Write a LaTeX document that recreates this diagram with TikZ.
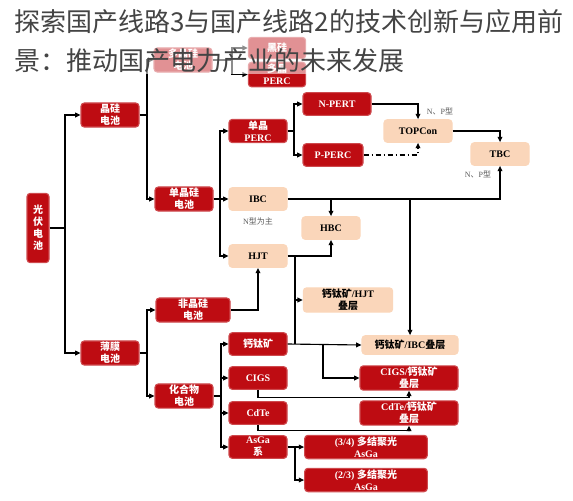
\documentclass[tikz,border=0pt]{standalone}
\usepackage{fontspec}
\setmainfont{Liberation Serif}
\newfontfamily\cjk{Noto Sans CJK SC}
\usetikzlibrary{arrows.meta,calc}
\definecolor{cellred}{RGB}{190,12,18}
\definecolor{cellpeach}{RGB}{250,214,186}
\definecolor{titlegray}{RGB}{68,68,68}
\newcommand\zh[1]{{\cjk #1}}

\begin{document}
\begin{tikzpicture}[x=0.75pt, y=-0.75pt, line width=0.85pt, >={Triangle[length=4pt,width=3.6pt]},
  redcell/.style={draw=cellred!75, fill=cellred, text=white, rounded corners=2.5pt, align=center,
    font=\bfseries\fontsize{7.5}{9}\selectfont, inner sep=1pt, minimum width=43.5pt, minimum height=17pt},
  peachcell/.style={redcell, draw=cellpeach, fill=cellpeach, text=black},
  note/.style={font=\fontsize{6}{7}\selectfont, text=black!65}]
  \useasboundingbox (0,0) rectangle (573,500);

  \node [redcell, minimum width=16.5pt, minimum height=52pt] (pv) at (38,228) {\zh{光}\\\zh{伏}\\\zh{电}\\\zh{池}};
  \node [redcell] (jg) at (110,115) {\zh{晶硅}\\\zh{电池}};
  \node [redcell] (bm) at (110,353) {\zh{薄膜}\\\zh{电池}};
  \node [redcell, minimum height=18pt] (djg) at (183,60) {\zh{多晶硅}\\\zh{电池}};
  \node [redcell, minimum width=43pt, minimum height=16pt] (hg) at (277,48) {\zh{黑硅}};
  \node [redcell, minimum width=43pt, minimum height=18.5pt] (dpc) at (277,74.5) {\zh{多晶}\\PERC};
  \node [redcell] (dj) at (184,199) {\zh{单晶硅}\\\zh{电池}};
  \node [redcell] (dperc) at (258,131) {\zh{单晶}\\PERC};
  \node [peachcell] (ibc) at (258,199) {IBC};
  \node [peachcell] (hjt) at (258,256) {HJT};
  \node [redcell, minimum width=51pt] (npert) at (337,104) {N-PERT};
  \node [redcell, minimum width=45pt] (pperc) at (333,155) {P-PERC};
  \node [peachcell, minimum width=51pt] (topcon) at (418,131) {TOPCon};
  \node [peachcell] (tbc) at (500,154) {TBC};
  \node [peachcell] (hbc) at (331,228) {HBC};
  \node [peachcell, minimum width=67pt, minimum height=18pt] (pkhjt) at (348,300) {\zh{钙钛矿}/HJT\\\zh{叠层}};
  \node [redcell, minimum width=55.5pt] (fjg) at (193,310) {\zh{非晶硅}\\\zh{电池}};
  \node [redcell] (hhw) at (184,396) {\zh{化合物}\\\zh{电池}};
  \node [redcell] (pk) at (258,344) {\zh{钙钛矿}};
  \node [redcell] (cigs) at (258,378) {CIGS};
  \node [redcell] (cdte) at (258,413) {CdTe};
  \node [redcell] (asga) at (258,447) {AsGa\\\zh{系}};
  \node [peachcell, minimum width=72pt, minimum height=14pt] (pkibc) at (410,345) {\zh{钙钛矿}/IBC\zh{叠层}};
  \node [redcell, minimum width=73.5pt] (cigspk) at (409,378) {CIGS/\zh{钙钛矿}\\\zh{叠层}};
  \node [redcell, minimum width=73.5pt] (cdtepk) at (409,413) {CdTe/\zh{钙钛矿}\\\zh{叠层}};
  \node [redcell, minimum width=92pt] (mj34) at (366,447) {(3/4)\;\zh{多结聚光}\\AsGa};
  \node [redcell, minimum width=92pt] (mj23) at (366,480) {(2/3)\;\zh{多结聚光}\\AsGa};

  \node [note] (nibc) at (258,221) {N\zh{型为主}};
  \node [note] (ntop) at (440,111) {N\zh{、}P\zh{型}};
  \node [note] (ntbc) at (478,174) {N\zh{、}P\zh{型}};

  \coordinate (b1) at (65,228);
  \coordinate (b2) at (147,115);
  \coordinate (b3) at (232,60);
  \coordinate (b4) at (220,199);
  \coordinate (b5) at (294,131);
  \coordinate (b6) at (295,256);
  \coordinate (b7) at (147,353);
  \coordinate (b8) at (221,396);
  \coordinate (b9) at (295,447);
  \coordinate (b10) at (323,344);

  \draw (pv.east) -- (b1);
  \draw [->] (b1) |- (jg.west);
  \draw [->] (b1) |- (bm.west);
  \draw (jg.east) -- (b2);
  \draw [->] (b2) |- (djg.west);
  \draw [->] (b2) |- (dj.west);
  \draw (djg.east) -- (b3);
  \draw [->] (b3) |- (hg.west);
  \draw [->] (b3) |- (dpc.west);
  \draw [->] (dj.east) -- (ibc.west);
  \draw [->] (b4) |- (dperc.west);
  \draw [->] (b4) |- (hjt.west);
  \draw (dperc.east) -- (b5);
  \draw [->] (b5) |- (npert.west);
  \draw [->] (b5) |- (pperc.west);
  \draw [->] (npert.east) -| (topcon.north);
  \draw [->, dash pattern=on 4pt off 2pt on 1pt off 2pt] (pperc.east) -| (topcon.south);
  \draw [->] (topcon.east) -| (tbc.north);
  \draw [->] (ibc.east) -| (tbc.south);
  \draw [->] (hbc.north |- ibc.east) -- (hbc.north);
  \draw [->] (pkibc.north |- ibc.east) -- (pkibc.north);
  \draw [->] (hjt.east) -| (hbc.south);
  \draw [->] (b6) |- (pkhjt.west);
  \draw (pkhjt.west -| b6) -- (b6 |- pk.east);
  \draw [->] (fjg.east) -| (hjt.south);
  \draw (bm.east) -- (b7);
  \draw [->] (b7) |- (fjg.west);
  \draw [->] (b7) |- (hhw.west);
  \draw (hhw.east) -- (b8);
  \draw [->] (b8) |- (pk.west);
  \draw [->] (b8) |- (cigs.west);
  \draw [->] (b8) |- (cdte.west);
  \draw [->] (b8) |- (asga.west);
  \draw [->] (pk.east) -- (pkibc.west -| pkibc.west);
  \draw [->] (b10) |- (cigspk.west);
  \draw [->] (cigs.south) -- ++(0,8) -| (cigspk.south);
  \draw [->] (cdte.south) -- ++(0,6) -| (cdtepk.south);
  \draw (asga.east) -- (b9);
  \draw [->] (b9) -- (mj34.west);
  \draw [->] (b9) |- (mj23.west);

  \fill [white, opacity=0.55] (0,0) rectangle (573,74);
  \node [anchor=west, text=titlegray, font=\cjk\fontsize{19.5}{22}\selectfont, inner sep=0pt] (title1) at (14,22) {探索国产线路3与国产线路2的技术创新与应用前};
  \node [anchor=west, text=titlegray, font=\cjk\fontsize{19.5}{22}\selectfont, inner sep=0pt] (title2) at (14,61) {景：推动国产电力产业的未来发展};
\end{tikzpicture}
\end{document}
